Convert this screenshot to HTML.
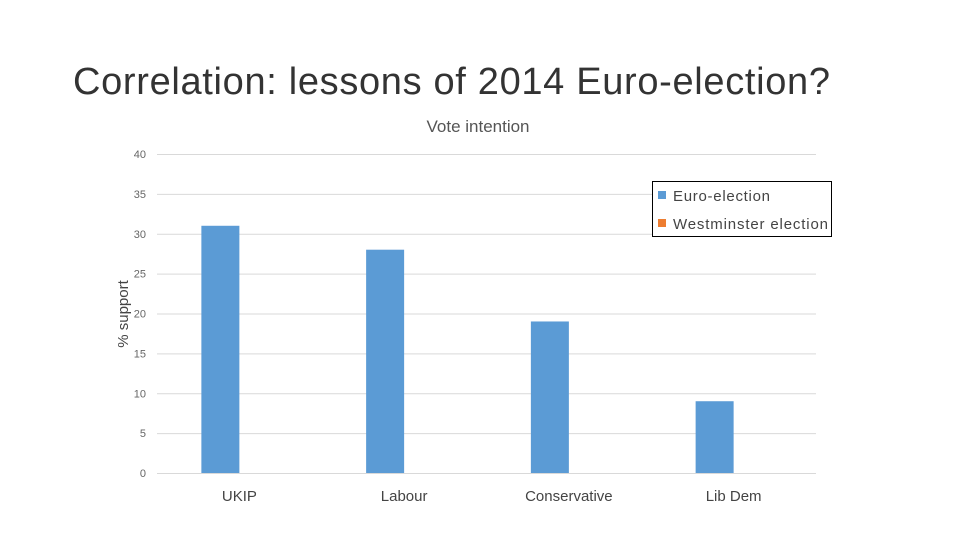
<!DOCTYPE html>
<html><head><meta charset="utf-8"><style>
html,body{margin:0;padding:0;background:#fff;width:960px;height:540px;overflow:hidden;font-family:"Liberation Sans",sans-serif}
</style></head><body>
<svg id="chart" width="960" height="540" xmlns="http://www.w3.org/2000/svg">
<text x="73" y="94" font-size="38" fill="#333" textLength="757" lengthAdjust="spacing">Correlation: lessons of 2014 Euro-election?</text>
<text x="478" y="132" font-size="17" fill="#555" text-anchor="middle">Vote intention</text>
<text transform="translate(128,314) rotate(-90)" font-size="15" fill="#444" text-anchor="middle">% support</text>
<g id="grid"></g><g id="bars"></g><g id="labels"></g>
<g>
<rect x="652.5" y="181.5" width="179" height="55" fill="#fff" stroke="#000" stroke-width="1"/>
<rect x="658" y="191" width="8" height="8" fill="#5B9BD5"/>
<text x="673" y="201" font-size="15" fill="#444" textLength="97" lengthAdjust="spacing">Euro-election</text>
<rect x="658" y="219" width="8" height="8" fill="#ED7D31"/>
<text x="673" y="229" font-size="15" fill="#444" textLength="155" lengthAdjust="spacing">Westminster election</text>
</g>
</svg>
<script>
const categories = ["UKIP","Labour","Conservative","Lib Dem"];
const euroValues = [31,28,19,9];
const westminsterValues = [0,0,0,0];
const yTicks = [0,5,10,15,20,25,30,35,40];
const NS="http://www.w3.org/2000/svg";
const x0=157,x1=816,y0=473,y40=154;
const y=v=>y0-(v/40)*(y0-y40);
const band=(x1-x0)/categories.length;
const cx=i=>x0+band*(i+0.5);
function mk(t,a,p){const e=document.createElementNS(NS,t);for(const k in a)e.setAttribute(k,a[k]);p.appendChild(e);return e;}
const grid=document.getElementById('grid'),bars=document.getElementById('bars'),labels=document.getElementById('labels');
yTicks.forEach(v=>{
  const l=mk('line',{x1:x0,x2:x1,y1:y(v)+0.5,y2:y(v)+0.5,stroke:'#d9d9d9','stroke-width':1},grid);
  
  
  const t=mk('text',{x:146,y:y(v)+4,'font-size':11,fill:'#666','text-anchor':'end'},grid);
  t.textContent=v;
  
  
});
categories.forEach((c,i)=>{
  const bw=38;
  const r=mk('rect',{x:cx(i)-bw,y:y(euroValues[i]),width:bw,height:y0-y(euroValues[i]),fill:'#5B9BD5'},bars);
  
  
  const r2=mk('rect',{x:cx(i),y:y(westminsterValues[i]),width:bw,height:y0-y(westminsterValues[i]),fill:'#ED7D31'},bars);
  
  
  const t=mk('text',{x:cx(i),y:501,'font-size':15,fill:'#444','text-anchor':'middle'},labels);
  t.textContent=c;
  
  
});
</script>
</body></html>
